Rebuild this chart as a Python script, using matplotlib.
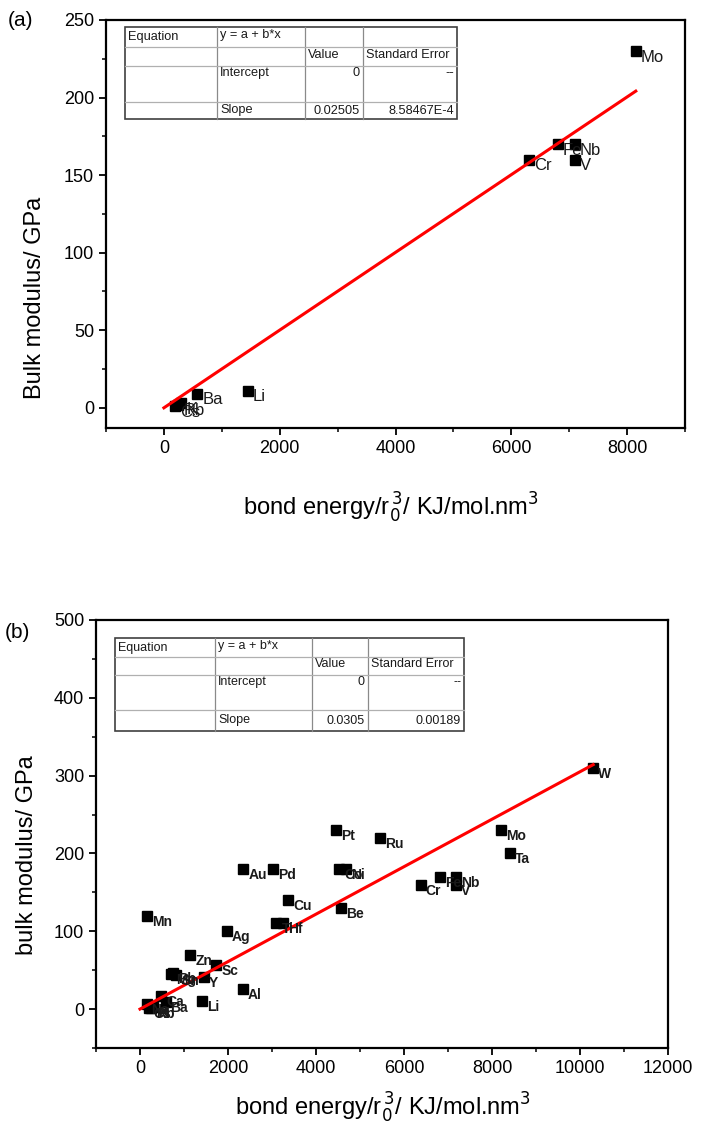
import matplotlib
matplotlib.use("Agg")
import matplotlib.pyplot as plt
from matplotlib.ticker import MultipleLocator
from matplotlib.transforms import offset_copy

plt.rcParams['font.family'] = ['Liberation Sans', 'DejaVu Sans']

# ---- panel (a) data ----
a_names = ["Mo", "Fe", "Nb", "V", "Cr", "Li", "Ba", "K", "Rb", "Cs"]
a_x = [8150, 6800, 7100, 7100, 6300, 1450, 580, 300, 250, 200]
a_y = [230, 170, 170, 160, 160, 11, 9, 3, 2, 1]
a_slope = 0.02505
a_slope_err = "8.58467E-4"

# ---- panel (b) data ----
b_names = ["W", "Mo", "Ta", "Pt", "Ru", "Co", "Ni", "Au", "Pd", "Cu", "Be",
           "Ti", "Hf", "Mn", "Ag", "Zn", "Sc", "Y", "Mg", "Pb", "Sn", "Al",
           "Li", "Ca", "Ba", "K", "Rb", "Cs", "Na", "Cr", "Fe", "Nb", "V"]
b_x = [10300, 8200, 8400, 4450, 5450, 4520, 4680, 2350, 3030, 3370, 4570,
       3100, 3250, 160, 1980, 1140, 1730, 1460, 700, 760, 820, 2330,
       1420, 480, 580, 300, 250, 200, 150, 6380, 6820, 7180, 7180]
b_y = [310, 230, 200, 230, 220, 180, 180, 180, 180, 140, 130,
       110, 110, 120, 100, 70, 57, 41, 45, 46, 44, 26,
       11, 17, 9, 3, 2, 1, 6, 160, 170, 170, 160]
b_slope = 0.0305
b_slope_err = "0.00189"

W, H = 702, 1133
fig = plt.figure(figsize=(W / 100, H / 100), dpi=100)


def px_axes(left, top, right, bottom):
    return fig.add_axes([left / W, 1 - bottom / H, (right - left) / W, (bottom - top) / H])


def style_axes(ax, xmaj, xmin, ymaj, ymin):
    for s in ax.spines.values():
        s.set_linewidth(1.6)
    ax.xaxis.set_major_locator(MultipleLocator(xmaj))
    ax.xaxis.set_minor_locator(MultipleLocator(xmin))
    ax.yaxis.set_major_locator(MultipleLocator(ymaj))
    ax.yaxis.set_minor_locator(MultipleLocator(ymin))
    ax.tick_params(which='major', direction='out', length=5, width=1.3, labelsize=13,
                   top=False, right=False)
    ax.tick_params(which='minor', direction='out', length=3, width=1.1, top=False, right=False)


def draw_scatter(ax, xs, ys, names, slope, label_kw):
    ax.plot(xs, ys, 's', color='black', markersize=7, zorder=3)
    xmax = max(xs)
    ax.plot([0, xmax], [0, slope * xmax], '-', color='#ff0000', lw=2.2, zorder=4)
    tr = offset_copy(ax.transData, fig=fig, x=5, y=-6, units='dots')
    for x, y, n in zip(xs, ys, names):
        ax.text(x, y, n, transform=tr, ha='left', va='center', zorder=5, **label_kw)


def draw_table(cols, rows, slope, err, fs):
    tab = px_axes(0, 0, W, H)
    tab.set_xlim(0, W)
    tab.set_ylim(H, 0)
    tab.axis('off')
    right, bottom = cols[-1], rows[-1]
    tab.add_patch(plt.Rectangle((cols[0], rows[0]), right - cols[0], bottom - rows[0],
                                facecolor='white', edgecolor='#404040', lw=1.2, zorder=1))
    for c in cols[1:-1]:
        tab.plot([c, c], [rows[0], bottom], color='#8a8a8a', lw=0.9, zorder=2)
    for r in rows[1:-1]:
        tab.plot([cols[0], right], [r, r], color='#b0b0b0', lw=0.9, zorder=2)
    pad = 3
    kw = dict(fontsize=fs, color='#1a1a1a', va='center', zorder=3)
    r1 = (rows[0] + rows[1]) / 2
    r2 = (rows[1] + rows[2]) / 2 - 2
    r3 = rows[2] + 7
    r4 = (rows[3] + rows[4]) / 2
    tab.text(cols[0] + pad, r1, "Equation", ha='left', **kw)
    tab.text(cols[1] + pad, r1 - 2, "y = a + b*x", ha='left', **kw)
    tab.text(cols[2] + pad, r2, "Value", ha='left', **kw)
    tab.text(cols[3] + pad, r2, "Standard Error", ha='left', **kw)
    tab.text(cols[1] + pad, r3, "Intercept", ha='left', **kw)
    tab.text(cols[3] - pad, r3, "0", ha='right', **kw)
    tab.text(cols[4] - pad, r3, "--", ha='right', **kw)
    tab.text(cols[1] + pad, r4, "Slope", ha='left', **kw)
    tab.text(cols[3] - pad, r4, slope, ha='right', **kw)
    tab.text(cols[4] - pad, r4, err, ha='right', **kw)


xlabel = r"bond energy/r$_0^{\,3}$/ KJ/mol.nm$^3$"

# ---- panel (a) ----
axa = px_axes(106, 20, 685, 428)
draw_scatter(axa, a_x, a_y, a_names, a_slope, dict(fontsize=12, color='#1a1a1a'))
axa.set_xlim(-1000, 9000)
axa.set_ylim(-13, 250)
style_axes(axa, 2000, 1000, 50, 25)
fig.text(391 / W, 1 - 508 / H, xlabel, fontsize=17, ha='center', va='center')
fig.text(35 / W, 1 - 298 / H, "Bulk modulus/ GPa", fontsize=17, rotation=90,
         ha='center', va='center')
fig.text(8 / W, 1 - 20 / H, "(a)", fontsize=15, va='center', ha='left')

# ---- panel (b) ----
axb = px_axes(96, 620, 668, 1048)
draw_scatter(axb, b_x, b_y, b_names, b_slope,
             dict(fontsize=10, fontweight='bold', color='#1a1a1a'))
axb.set_xlim(-1000, 12000)
axb.set_ylim(-50, 500)
style_axes(axb, 2000, 1000, 100, 50)
fig.text(383 / W, 1 - 1108 / H, xlabel, fontsize=17, ha='center', va='center')
fig.text(27 / W, 1 - 855 / H, "bulk modulus/ GPa", fontsize=17, rotation=90,
         ha='center', va='center')
fig.text(5 / W, 1 - 632 / H, "(b)", fontsize=15, va='center', ha='left')

draw_table([125, 217, 305, 363, 457], [27, 47, 66, 102, 119], "0.02505", a_slope_err, 9.2)
draw_table([115, 215, 312, 368, 464], [638, 657, 675, 710, 731], "0.0305", b_slope_err, 9)

fig.savefig("out.png", dpi=100)
